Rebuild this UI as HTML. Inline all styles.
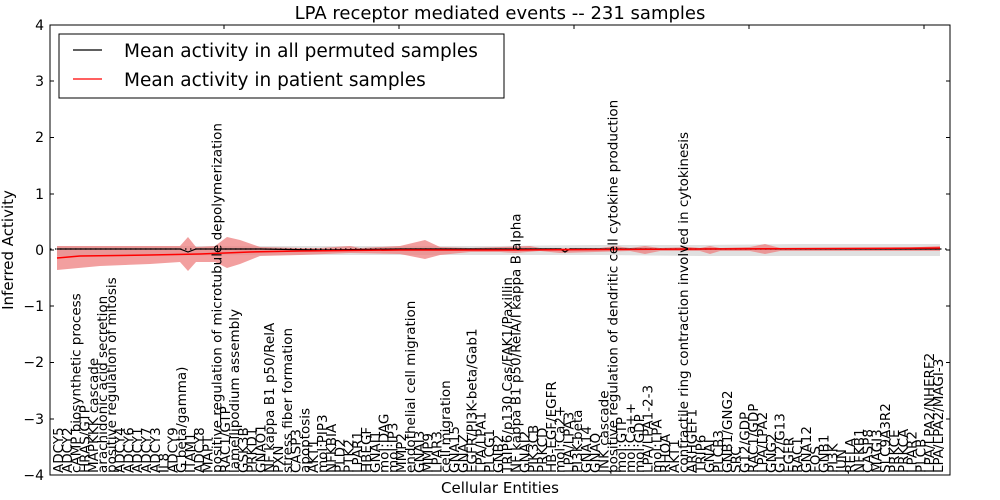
<!DOCTYPE html>
<html><head><meta charset="utf-8"><style>
html,body{margin:0;padding:0;background:#fff;}
svg{display:block;font-family:"DejaVu Sans","Liberation Sans",sans-serif;}
</style></head><body>
<svg width="1000" height="500" viewBox="0 0 1000 500" xmlns="http://www.w3.org/2000/svg">
<rect width="1000" height="500" fill="#fff"/>
<text x="500" y="19" font-size="18" text-anchor="middle">LPA receptor mediated events -- 231 samples</text>
<polygon fill="#d8d8d8" opacity="0.8" points="57,246 300,246 500,246 600,245 700,245 800,244 940,244 940,256 800,256 700,256 600,255 500,255 300,255 57,256"/>
<polygon fill="#ee7f7f" opacity="0.75" points="57,246 100,246 150,246 180,246 188,237 196,247 215,246 227,237 240,240 260,247 300,248 320,248 350,246 360,248 400,246 425,240 440,247 470,248 500,247 530,246 540,248 560,248 600,248 615,246 630,248 645,246 660,248 690,247 700,248 710,246 720,248 750,247 765,244 780,248 900,248 940,246 940,251 900,251 780,251 765,254 750,251 720,251 710,254 700,251 660,251 645,254 630,251 560,253 540,251 515,253 500,252 470,252 440,255 425,259 400,254 350,253 300,255 260,256 240,264 227,268 215,262 196,262 188,271 180,262 150,264 100,266 57,270"/>
<line x1="50" y1="249" x2="950" y2="249" stroke="#000" stroke-width="1.2" stroke-dasharray="1.5,3.5"/>
<polyline fill="none" stroke="#000" stroke-width="1.2" points="57,249 180,249 188,252 196,249 260,249 320,250 400,249 560,249 565,252 570,249 940,249"/>
<polyline fill="none" stroke="#f00" stroke-width="1.5" points="57,258 80,256 150,255 200,254 250,252 300,251 400,250 500,250 700,249 940,248"/>
<rect x="50" y="25" width="900" height="450" fill="none" stroke="#000" stroke-width="1"/>
<g stroke="#000" stroke-width="1">
<line x1="50" y1="81" x2="54" y2="81"/><line x1="50" y1="137.5" x2="54" y2="137.5"/><line x1="50" y1="194" x2="54" y2="194"/><line x1="50" y1="250" x2="54" y2="250"/><line x1="50" y1="306" x2="54" y2="306"/><line x1="50" y1="362.5" x2="54" y2="362.5"/><line x1="50" y1="419" x2="54" y2="419"/>
<line x1="946" y1="81" x2="950" y2="81"/><line x1="946" y1="137.5" x2="950" y2="137.5"/><line x1="946" y1="194" x2="950" y2="194"/><line x1="946" y1="250" x2="950" y2="250"/><line x1="946" y1="306" x2="950" y2="306"/><line x1="946" y1="362.5" x2="950" y2="362.5"/><line x1="946" y1="419" x2="950" y2="419"/>
<line x1="224" y1="25" x2="224" y2="29"/><line x1="399" y1="25" x2="399" y2="29"/><line x1="574" y1="25" x2="574" y2="29"/><line x1="749" y1="25" x2="749" y2="29"/><line x1="924" y1="25" x2="924" y2="29"/>
</g>
<g font-size="14" text-anchor="end">
<text x="44" y="30">4</text><text x="44" y="86">3</text><text x="44" y="142">2</text><text x="44" y="199">1</text><text x="44" y="255">0</text><text x="44" y="311">−1</text><text x="44" y="367">−2</text><text x="44" y="424">−3</text><text x="44" y="480">−4</text>
</g>
<text transform="translate(13,250) rotate(-90)" font-size="15" text-anchor="middle">Inferred Activity</text>
<text x="500" y="493" font-size="15" text-anchor="middle">Cellular Entities</text>
<rect x="59" y="34" width="445" height="64" fill="#fff" stroke="#000" stroke-width="1"/>
<line x1="73" y1="50" x2="102" y2="50" stroke="#000" stroke-width="1.2"/>
<line x1="73" y1="79" x2="102" y2="79" stroke="#f00" stroke-width="1.2"/>
<text x="124" y="57" font-size="18.5">Mean activity in all permuted samples</text>
<text x="124" y="86" font-size="18.5">Mean activity in patient samples</text>
<g font-size="13.5" id="xl"></g>
</svg>
<script>
var L=["ADCY5","ADCY2","cAMP biosynthetic process","HRAS/GTP","MAPKKK cascade","arachidonic acid secretion","positive regulation of mitosis","ADCY4","ADCY6","ADCY1","ADCY7","ADCY3","IL8","ADCY9","G beta/gamma)","ITAM1","ADCY8","MAPT","positive regulation of microtubule depolymerization","RAC1/GTP","lamellipodium assembly","GSK3B","PRKD1","GNAO1","NF kappa B1 p50/RelA","PXN","stress fiber formation","CASP3","apoptosis","AKT1","mol:PIP3","NFKBIA","PLD2","PTK2","LPAR1","HBEGF","GNAI1","mol:DAG","mol:IP3","MMP2","endothelial cell migration","GNAI3","MMP9","LPAR3","cell migration","GNA15","GNAZ","EGFR/PI3K-beta/Gab1","LPA/LPA1","PLCG1","GNB2","TRIP6/p130 Cas/FAK1/Paxillin","NF kappa B1 p50/RelA/I kappa B alpha","GNAI2","PIK3CB","PRKCD","HB-EGF/EGFR","mol:Ca2+","LPA/LPA3","PI3K-beta","GNA14","GNAQ","JNK cascade","positive regulation of dendritic cell cytokine production","mol:GTP","mol:Ca++","mol:GDP","LPA/LPA1-2-3","mol:LPA","RHOA","AKT1","contractile ring contraction involved in cytokinesis","ARHGEF1","TRIP6","GNAI","PLCB3","GNB1/GNG2","SRC","G12/GDP","RAC1/GDP","LPA/LPA2","GNG2","G12/G13","EGFR","RAC1","GNA12","FOS","GNB1","PI3K","JUN","RELA","NFKB1","CASP8","MAGI3","SLC9A3R2","PRKCE","PRKCA","LPAR2","PLCB","LPA/LPA2/NHERF2","LPA/LPA2/MAGI-3"];
var g=document.getElementById("xl"),n=L.length,x0=58,x1=938;
for(var i=0;i<n;i++){var x=x0+(x1-x0)*i/(n-1);var t=document.createElementNS("http://www.w3.org/2000/svg","text");
t.setAttribute("transform","translate("+(x+5)+",473) rotate(-90)");t.textContent=L[i];g.appendChild(t);}
</script>
</body></html>
